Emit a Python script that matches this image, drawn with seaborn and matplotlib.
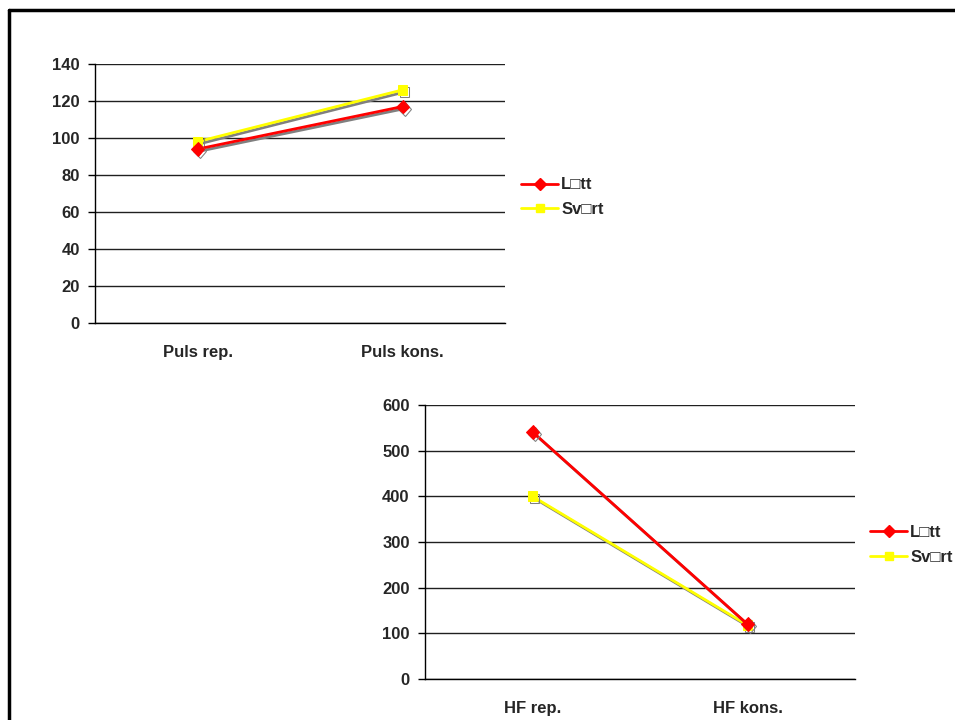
import matplotlib
matplotlib.use("Agg")
import matplotlib.pyplot as plt
import matplotlib.patheffects as pe
from matplotlib.lines import Line2D
import seaborn as sns
import pandas as pd

# Data
puls_categories = ["Puls rep.", "Puls kons."]
latt_puls = [94, 117]
svart_puls = [98, 126]

hf_categories = ["HF rep.", "HF kons."]
latt_hf = [541, 120]
svart_hf = [400, 118]

series_names = ["L\u25a1tt", "Sv\u25a1rt"]
series_colors = ["#FF0000", "#FFFF00"]
series_markers = ["D", "s"]

sns.set_theme(style="white")
plt.rcParams["font.family"] = ["Liberation Sans", "DejaVu Sans"]
plt.rcParams["font.weight"] = "bold"

W, H = 955, 720
FS = 12
fig = plt.figure(figsize=(W / 100, H / 100), dpi=100)


def frac(x0, y0, x1, y1):
    return [x0 / W, 1 - y1 / H, (x1 - x0) / W, (y1 - y0) / H]


def draw_panel(rect, categories, latt, svart, ymax, step, legend_xy):
    ax = fig.add_axes(frac(*rect))
    df = pd.DataFrame({
        "pos": list(range(len(categories))) * 2,
        "value": list(latt) + list(svart),
        "serie": [series_names[0]] * len(latt) + [series_names[1]] * len(svart),
    })
    shadow = [pe.SimpleLineShadow(offset=(1.5, -1.5), shadow_color="#808080", alpha=1.0),
              pe.Normal()]
    for i, name in enumerate(series_names):
        sub = df[df["serie"] == name]
        sns.lineplot(data=sub, x="pos", y="value", ax=ax, color=series_colors[i],
                     marker=series_markers[i], markersize=7,
                     markeredgecolor=series_colors[i], linewidth=2,
                     path_effects=shadow, legend=False, zorder=3 + (1 - i))
    ax.set_xlim(-0.5, len(categories) - 0.5)
    ax.set_ylim(0, ymax)
    ax.set_yticks(range(0, ymax + 1, step))
    ax.set_yticklabels([str(v) for v in range(0, ymax + 1, step)], fontsize=FS, fontweight="bold")
    ax.set_xticks([-0.5, 0.5, 1.5], minor=False)
    ax.set_xticklabels([])
    ax.set_xticks([0, 1], minor=True)
    ax.set_xticklabels(categories, minor=True, fontsize=FS, fontweight="bold")
    ax.tick_params(axis="x", which="minor", length=0, pad=16)
    ax.tick_params(axis="x", which="major", length=5, width=1, color="black", direction="out")
    ax.tick_params(axis="y", length=5, width=1, color="black", direction="out", pad=6, left=True)
    ax.grid(axis="y", color="#202020", linewidth=1)
    ax.set_axisbelow(True)
    for s in ["top", "right"]:
        ax.spines[s].set_visible(False)
    for s in ["left", "bottom"]:
        ax.spines[s].set_color("black")
        ax.spines[s].set_linewidth(1)
    ax.set_xlabel("")
    ax.set_ylabel("")
    handles = [Line2D([0], [0], color=series_colors[i], marker=series_markers[i],
                      markersize=6, markeredgecolor=series_colors[i], linewidth=2)
               for i in range(2)]
    fig.legend(handles, series_names, loc="upper left",
               bbox_to_anchor=(legend_xy[0] / W, 1 - legend_xy[1] / H),
               frameon=False, handlelength=2.2,
               handletextpad=0.2, labelspacing=0.55, borderpad=0,
               prop={"weight": "bold", "size": FS})
    return ax


draw_panel((95, 64, 505, 323), puls_categories, latt_puls, svart_puls, 140, 20, (513, 169))
draw_panel((425, 405, 855, 679), hf_categories, latt_hf, svart_hf, 600, 100, (862, 517))

# Outer frame (top and left edges)
fig.add_artist(Line2D([8.5 / W, 8.5 / W], [0, 1 - 10 / H], color="black", linewidth=2.5,
                      transform=fig.transFigure))
fig.add_artist(Line2D([8.5 / W, 1], [1 - 10 / H, 1 - 10 / H], color="black", linewidth=2.5,
                      transform=fig.transFigure))

fig.savefig("out.png", dpi=100, facecolor="white")
